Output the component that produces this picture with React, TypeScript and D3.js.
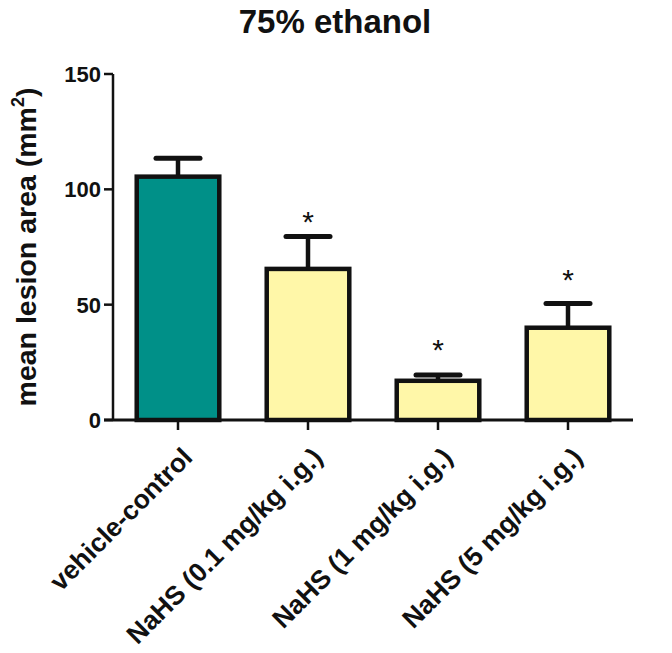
import React from "react";
import * as d3 from "d3";

const categories = [
  "vehicle-control",
  "NaHS (0.1 mg/kg i.g.)",
  "NaHS (1 mg/kg i.g.)",
  "NaHS (5 mg/kg i.g.)",
];
const means = [105.5, 65.5, 17, 40];
const sems = [8, 14, 2.5, 10.5];
const significant = [false, true, true, true];
const sigMarkValues = [0, 89, 33.5, 64];
const barColors = ["#009088", "#FFF7A8", "#FFF7A8", "#FFF7A8"];
const yTicks = [0, 50, 100, 150];

const W = 672;
const H = 653;
const FONT = "Liberation Sans, Arial, Helvetica, sans-serif";

export default function App() {
  const x = d3
    .scaleBand<string>()
    .domain(categories)
    .range([113, 633])
    .paddingInner(0.365)
    .paddingOuter(0.1825);
  const y = d3.scaleLinear().domain([0, 150]).range([420, 74]);
  const bw = x.bandwidth();
  const capHalf = 22;

  return (
    <svg
      width={W}
      height={H}
      style={{ position: "absolute", left: 0, top: 0, background: "#fff" }}
      fontFamily={FONT}
    >
      <text x={335} y={33} textAnchor="middle" fontSize={33} fontWeight="bold" fill="#111">
        75% ethanol
      </text>

      {/* bars */}
      {categories.map((c, i) => {
        const cx = (x(c) as number) + bw / 2;
        return (
          <g key={c}>
            <line
              x1={cx}
              x2={cx}
              y1={y(means[i])}
              y2={y(means[i] + sems[i])}
              stroke="#111"
              strokeWidth={4.5}
            />
            <line
              x1={cx - capHalf}
              x2={cx + capHalf}
              y1={y(means[i] + sems[i])}
              y2={y(means[i] + sems[i])}
              stroke="#111"
              strokeWidth={5}
              strokeLinecap="round"
            />
            <rect
              x={x(c)}
              y={y(means[i])}
              width={bw}
              height={y(0) - y(means[i])}
              fill={barColors[i]}
              stroke="#111"
              strokeWidth={4.5}
            />
            {significant[i] && (
              <text
                x={cx}
                y={y(sigMarkValues[i])}
                textAnchor="middle"
                dominantBaseline="central"
                dy={7}
                fontSize={30}
                fill="#111"
              >
                *
              </text>
            )}
          </g>
        );
      })}

      {/* y axis */}
      <line x1={113} x2={113} y1={y(150)} y2={y(0)} stroke="#111" strokeWidth={2.5} />
      {yTicks.map((t) => (
        <g key={t}>
          <line x1={104} x2={113} y1={y(t)} y2={y(t)} stroke="#111" strokeWidth={2.5} />
          <text
            x={101}
            y={y(t)}
            dy={8}
            textAnchor="end"
            fontSize={22}
            fontWeight="bold"
            fill="#111"
          >
            {t}
          </text>
        </g>
      ))}

      {/* x axis */}
      <line x1={104} x2={633} y1={y(0)} y2={y(0)} stroke="#111" strokeWidth={3} />
      {categories.map((c) => {
        const cx = (x(c) as number) + bw / 2;
        return (
          <g key={c}>
            <line x1={cx} x2={cx} y1={y(0)} y2={y(0) + 10} stroke="#111" strokeWidth={2.5} />
            <text
              transform={`translate(${cx + 16},${y(0) + 39}) rotate(-45)`}
              textAnchor="end"
              fontSize={26.5}
              fontWeight="bold"
              fill="#111"
            >
              {c}
            </text>
          </g>
        );
      })}

      {/* y label */}
      <text
        transform={`translate(36,${(y(0) + y(150)) / 2}) rotate(-90)`}
        textAnchor="middle"
        fontSize={28.5}
        fontWeight="bold"
        fill="#111"
      >
        mean lesion area (mm
        <tspan fontSize={18} dy={-12}>
          2
        </tspan>
        <tspan dy={12}>)</tspan>
      </text>
    </svg>
  );
}
